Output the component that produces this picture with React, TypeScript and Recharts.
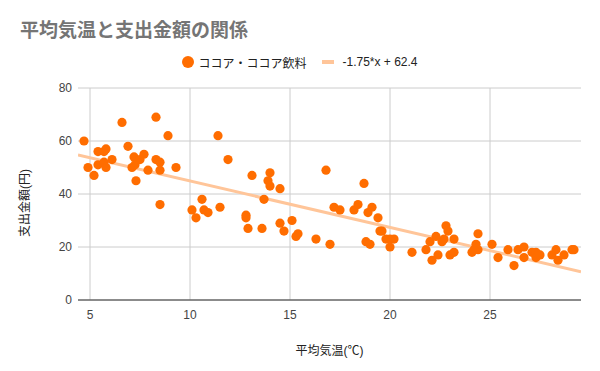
import React from 'react';
import { ComposedChart, Scatter, XAxis, YAxis, CartesianGrid } from 'recharts';

// 平均気温 (°C) and ココア・ココア飲料 spending (円)
const temps: number[] = [
  4.7, 4.9, 5.2, 5.4, 5.4, 5.7, 5.8, 5.7, 5.8, 6.1,
  6.6, 6.9, 7.2, 7.1, 7.25, 7.3, 7.5, 7.7, 7.9, 8.3,
  8.3, 8.5, 8.5, 8.5, 8.9, 9.3, 10.1, 10.3, 10.6, 10.7,
  10.9, 11.4, 11.5, 11.9, 13.1, 14.0, 13.9, 14.0, 14.5, 13.7,
  12.8, 12.8, 12.9, 13.6, 14.5, 14.7, 15.1, 15.4, 15.3, 16.3,
  17.0, 16.8, 17.2, 17.5, 18.2, 18.4, 18.7, 18.9, 19.1, 19.4,
  19.5, 19.6, 18.8, 19.0, 19.8, 20.0, 20.2, 20.0, 21.1, 21.8,
  22.1, 22.0, 22.3, 22.4, 22.6, 22.7, 22.8, 22.9, 23.0, 23.2,
  23.2, 24.1, 24.3, 24.4, 24.4, 24.2, 25.1, 25.4, 25.9, 26.2,
  26.4, 26.7, 26.7, 27.1, 27.3, 27.4, 27.3, 27.5, 28.1, 28.3,
  28.4, 28.7, 29.1, 29.2,
];
const spending: number[] = [
  60, 50, 47, 56, 51, 56, 57, 52, 50, 53,
  67, 58, 54, 50, 51, 45, 53, 55, 49, 69,
  53, 52, 49, 36, 62, 50, 34, 31, 38, 34,
  33, 62, 35, 53, 47, 48, 45, 43, 42, 38,
  32, 31, 27, 27, 29, 26, 30, 25, 24, 23,
  21, 49, 35, 34, 34, 36, 44, 33, 35, 31,
  26, 26, 22, 21, 23, 23, 23, 20, 18, 19,
  15, 22, 24, 17, 22, 23, 28, 26, 17, 18,
  23, 18, 21, 25, 19, 19, 21, 16, 19, 13,
  19, 20, 16, 18, 18, 17, 16, 17, 17, 19,
  15, 17, 19, 19,
];

const xTicks = [5, 10, 15, 20, 25];
const yTicks = [0, 20, 40, 60, 80];
const xDomain: [number, number] = [4.4, 29.55];

const slope = -1.75;
const intercept = 62.4;

const points = temps.map((t, i) => ({ x: t, y: spending[i] }));
const trend = xDomain.map((x) => ({ x, y: slope * x + intercept }));

const FONT = "Arial, 'Liberation Sans', 'Noto Sans CJK JP', sans-serif";
const ORANGE = '#ff6d00';
const TREND = '#ffc599';

const YLabel = () => (
  <text
    x={25}
    y={203}
    transform="rotate(-90, 25, 203)"
    textAnchor="middle"
    dominantBaseline="central"
    fontFamily={FONT}
    fontSize={12}
    fill="#222"
  >
    支出金額(円)
  </text>
);

const App: React.FC = () => {
  return (
    <div style={{ position: 'absolute', left: 0, top: 0, width: 600, height: 371, background: '#fff' }}>
      <div style={{ position: 'absolute', left: 20, top: 18, fontFamily: FONT, fontSize: 19, fontWeight: 'bold', color: '#757575', lineHeight: '26px' }}>
        平均気温と支出金額の関係
      </div>
      <div style={{ position: 'absolute', left: 0, top: 54, width: 600, height: 16, display: 'flex', justifyContent: 'center', alignItems: 'center', fontFamily: FONT, fontSize: 12, color: '#222' }}>
        <span style={{ width: 12, height: 12, borderRadius: 6, background: ORANGE, display: 'inline-block', marginRight: 4 }} />
        <span>ココア・ココア飲料</span>
        <span style={{ width: 12, height: 4, background: TREND, display: 'inline-block', marginLeft: 16, marginRight: 8 }} />
        <span>-1.75*x + 62.4</span>
      </div>
      <ComposedChart width={600} height={371} margin={{ top: 88, right: 19, bottom: 41, left: 0 }}>
        <CartesianGrid stroke="#cccccc" horizontalValues={yTicks} verticalValues={xTicks} />
        <XAxis
          type="number"
          dataKey="x"
          domain={xDomain}
          ticks={xTicks}
          allowDataOverflow
          height={30}
          tickLine={false}
          axisLine={{ stroke: '#333' }}
          tick={{ fill: '#444', fontSize: 12, fontFamily: FONT }}
          tickMargin={4}
          label={{ value: '平均気温(℃)', position: 'bottom', offset: 16, fill: '#222', fontSize: 12, fontFamily: FONT }}
        />
        <YAxis
          type="number"
          dataKey="y"
          domain={[0, 80]}
          ticks={yTicks}
          width={78}
          tickLine={false}
          axisLine={false}
          tickSize={4}
          tickMargin={2}
          tick={{ fill: '#444', fontSize: 12, fontFamily: FONT }}
          label={<YLabel />}
        />
        <Scatter
          name="-1.75*x + 62.4"
          data={trend}
          line={{ stroke: TREND, strokeWidth: 3 }}
          shape={() => <g />}
          isAnimationActive={false}
        />
        <Scatter
          name="ココア・ココア飲料"
          data={points}
          fill={ORANGE}
          shape={(p: any) => <circle cx={p.cx} cy={p.cy} r={4.6} fill={ORANGE} />}
          isAnimationActive={false}
        />
      </ComposedChart>
    </div>
  );
};

export default App;
